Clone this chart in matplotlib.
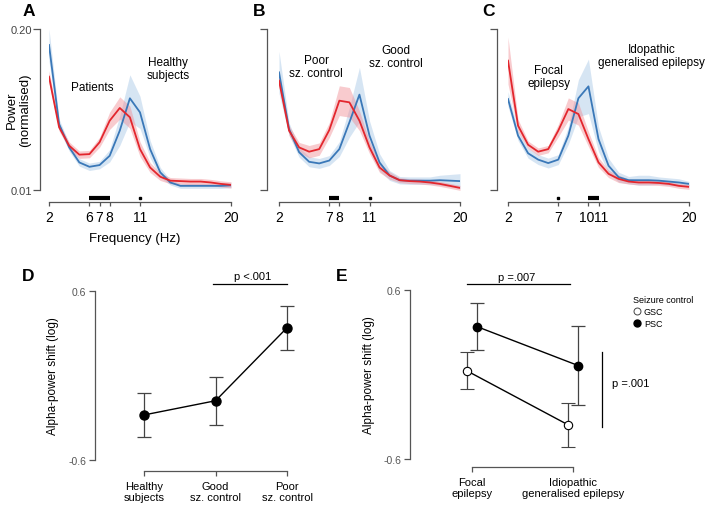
"""Alpha-power spectra (A-C) and alpha-power shift summaries (D-E)."""

import numpy as np
import matplotlib
matplotlib.use('Agg')
import matplotlib.pyplot as plt
from matplotlib.lines import Line2D
from matplotlib.ticker import NullLocator
from matplotlib.transforms import ScaledTranslation

plt.rcParams['font.family'] = ['Liberation Sans', 'DejaVu Sans']

RED = '#e3262d'
BLUE = '#3a78b8'
RED_FILL = '#f08c94'
BLUE_FILL = '#a6c6e6'
AXIS_GREY = '#555555'

freqs = np.arange(2, 21)

# panel A: patients (red) vs healthy subjects (blue)
a_red = [0.0824, 0.0321, 0.0228, 0.0193, 0.0195, 0.0243, 0.0363, 0.0460, 0.0387, 0.0214,
         0.0152, 0.0128, 0.0119, 0.0118, 0.0117, 0.0117, 0.0115, 0.0112, 0.0110]
a_blue = [0.1486, 0.0341, 0.0221, 0.0167, 0.0154, 0.0159, 0.0189, 0.0302, 0.0551, 0.0424,
          0.0214, 0.0139, 0.0115, 0.0108, 0.0108, 0.0108, 0.0108, 0.0108, 0.0109]
a_red_err = [0.05, 0.03, 0.03, 0.03, 0.03, 0.04, 0.07, 0.09, 0.09, 0.06,
             0.04, 0.03, 0.025, 0.025, 0.025, 0.025, 0.025, 0.025, 0.025]
a_blue_err = [0.13, 0.04, 0.03, 0.03, 0.03, 0.03, 0.05, 0.12, 0.19, 0.13,
              0.07, 0.04, 0.02, 0.02, 0.02, 0.02, 0.02, 0.02, 0.02]

# panel B: poor (red) vs good (blue) seizure control
b_red = [0.0765, 0.0302, 0.0221, 0.0204, 0.0214, 0.0305, 0.0527, 0.0511, 0.0363, 0.0221,
         0.0152, 0.0131, 0.0120, 0.0118, 0.0117, 0.0115, 0.0112, 0.0108, 0.0104]
b_blue = [0.0893, 0.0311, 0.0202, 0.0169, 0.0164, 0.0173, 0.0214, 0.0352, 0.0590, 0.0275,
          0.0167, 0.0131, 0.0120, 0.0119, 0.0119, 0.0119, 0.0120, 0.0119, 0.0118]
b_red_err = [0.05, 0.04, 0.04, 0.05, 0.05, 0.06, 0.12, 0.12, 0.08, 0.05,
             0.04, 0.03, 0.02, 0.02, 0.02, 0.02, 0.02, 0.02, 0.02]
b_blue_err = [0.17, 0.05, 0.04, 0.04, 0.04, 0.04, 0.06, 0.12, 0.22, 0.12,
              0.07, 0.04, 0.03, 0.03, 0.03, 0.03, 0.04, 0.05, 0.06]

# panel C: focal epilepsy (red) vs idiopathic generalised epilepsy (blue)
c_red = [0.1110, 0.0331, 0.0232, 0.0204, 0.0214, 0.0302, 0.0451, 0.0411, 0.0258, 0.0167,
         0.0135, 0.0123, 0.0117, 0.0115, 0.0115, 0.0114, 0.0112, 0.0108, 0.0106]
c_blue = [0.0544, 0.0275, 0.0198, 0.0176, 0.0165, 0.0176, 0.0275, 0.0551, 0.0688, 0.0258,
          0.0157, 0.0127, 0.0120, 0.0120, 0.0120, 0.0119, 0.0117, 0.0115, 0.0112]
c_red_err = [0.19, 0.05, 0.03, 0.03, 0.03, 0.05, 0.09, 0.09, 0.06, 0.04,
             0.03, 0.03, 0.02, 0.02, 0.02, 0.02, 0.02, 0.02, 0.02]
c_blue_err = [0.06, 0.04, 0.04, 0.04, 0.04, 0.04, 0.07, 0.15, 0.22, 0.10,
              0.06, 0.04, 0.03, 0.04, 0.04, 0.03, 0.03, 0.03, 0.02]

a_ticks = [2, 6, 7, 8, 11, 20]
b_ticks = [2, 7, 8, 11, 20]
c_ticks = [2, 7, 10, 11, 20]

# significant frequency ranges (start, end); equal ends are single bins
a_sig = [(6, 8), (11, 11)]
b_sig = [(7, 8), (11, 11)]
c_sig = [(7, 7), (10, 11)]

# panel D
d_groups = ['Healthy\nsubjects', 'Good\nsz. control', 'Poor\nsz. control']
d_mean = [-0.280, -0.179, 0.340]
d_err = [0.155, 0.170, 0.157]

# panel E
e_groups = ['Focal\nepilepsy', 'Idiopathic\ngeneralised epilepsy']
e_gsc_mean = [0.026, -0.357]
e_gsc_err = [0.131, 0.158]
e_psc_mean = [0.340, 0.064]
e_psc_err = [0.168, 0.278]


def spectrum_panel(ax, red, red_err, blue, blue_err, ticks, sig, labels, offset):
    """Draw one power spectrum panel with shaded error bands."""
    for vals, err, fill in [(blue, blue_err, BLUE_FILL), (red, red_err, RED_FILL)]:
        vals = np.asarray(vals)
        err = np.asarray(err)
        ax.fill_between(freqs, vals / 10 ** err, vals * 10 ** err,
                        color=fill, alpha=0.45, lw=0)
    ax.plot(freqs, blue, color=BLUE, lw=1.3)
    ax.plot(freqs, red, color=RED, lw=1.3)

    ax.set_yscale('log')
    ax.set_ylim(0.01, 0.20)
    ax.set_xlim(2, 20)
    ax.yaxis.set_minor_locator(NullLocator())
    ax.set_yticks([0.01, 0.20])
    ax.set_yticklabels([])
    ax.set_xticks(ticks)
    ax.set_xticklabels([str(t) for t in ticks], fontsize=8.2)

    for side in ['top', 'right']:
        ax.spines[side].set_visible(False)
    ax.spines['left'].set_position(('outward', offset))
    ax.spines['bottom'].set_position(('outward', 8.6))
    for side in ['left', 'bottom']:
        ax.spines[side].set_color(AXIS_GREY)
        ax.spines[side].set_linewidth(0.9)
    ax.tick_params(colors=AXIS_GREY, labelcolor='black', width=0.9)
    ax.tick_params(axis='y', length=5, pad=1)
    ax.tick_params(axis='x', length=3, pad=2.5)

    trans = ax.get_xaxis_transform()
    for lo, hi in sig:
        if lo == hi:
            ax.plot([lo], [-0.05], marker='s', ms=1.8, color='black',
                    transform=trans, clip_on=False)
        else:
            ax.plot([lo, hi], [-0.05, -0.05], color='black', lw=3,
                    solid_capstyle='butt', transform=trans, clip_on=False)

    for text, x, y in labels:
        ax.text(x, y, text, fontsize=8.5, ha='center', va='center',
                linespacing=1.15)


def clean_axes(ax, ylim, xbounds):
    for side in ['top', 'right']:
        ax.spines[side].set_visible(False)
    ax.spines['left'].set_bounds(-0.6, 0.6)
    ax.spines['bottom'].set_bounds(*xbounds)
    for side in ['left', 'bottom']:
        ax.spines[side].set_color(AXIS_GREY)
        ax.spines[side].set_linewidth(0.9)
    ax.set_ylim(*ylim)
    ax.set_yticks([-0.6, 0.6])
    ax.set_yticklabels(['-0.6', '0.6'], fontsize=7.5, color='#444444')
    ax.tick_params(colors=AXIS_GREY, width=0.9)
    ax.tick_params(axis='y', length=4.5, pad=2)
    ax.tick_params(axis='x', length=3.5, labelcolor='black', labelsize=8)


fig = plt.figure(figsize=(7.09, 5.06), dpi=100)
W, H = 709.0, 506.0


def px_axes(left, top, right, bottom):
    return fig.add_axes([left / W, 1 - bottom / H, (right - left) / W, (bottom - top) / H])


ax_a = px_axes(49, 30, 231, 191)
ax_b = px_axes(279, 30, 460, 191)
ax_c = px_axes(508, 30, 689, 191)

spectrum_panel(ax_a, a_red, a_red_err, a_blue, a_blue_err, a_ticks, a_sig,
               [('Patients', 6.25, 0.0676), ('Healthy\nsubjects', 13.8, 0.096)], 6.5)
spectrum_panel(ax_b, b_red, b_red_err, b_blue, b_blue_err, b_ticks, b_sig,
               [('Poor\nsz. control', 5.7, 0.099), ('Good\nsz. control', 13.6, 0.12)], 8.6)
spectrum_panel(ax_c, c_red, c_red_err, c_blue, c_blue_err, c_ticks, c_sig,
               [('Focal\nepilepsy', 6.05, 0.083),
                ('Idopathic\ngeneralised epilepsy', 16.3, 0.122)], 8)

# nudge the crowded "10" / "11" labels apart, as in the original figure
c_labels = ax_c.get_xticklabels()
for lab, dx in [(c_labels[2], -2.0), (c_labels[3], 2.5)]:
    lab.set_transform(lab.get_transform() + ScaledTranslation(dx / 100, 0, fig.dpi_scale_trans))

ax_a.set_yticklabels(['0.01', '0.20'], fontsize=8, color='#444444')
ax_a.set_ylabel('Power\n(normalised)', fontsize=9.5, linespacing=1.1)
ax_a.yaxis.set_label_coords(-0.10, 0.5)
ax_a.set_xlabel('Frequency (Hz)', fontsize=9.5)
ax_a.xaxis.set_label_coords(0.47, -0.26)

# panel D
ax_d = px_axes(95, 265, 310, 472)
d_x = np.arange(len(d_groups))
ax_d.errorbar(d_x, d_mean, yerr=d_err, color='black', ecolor='#444444',
              elinewidth=0.9, capsize=5, capthick=0.9, lw=1, marker='o', ms=6.5,
              clip_on=False, zorder=3)
ax_d.set_xlim(-0.685, 2.32)
clean_axes(ax_d, (-0.678, 0.792), (0, 2))
ax_d.set_xticks(d_x)
ax_d.set_xticklabels(d_groups, linespacing=1.1)
ax_d.plot([0.97, 2.0], [0.652, 0.652], color='black', lw=0.9)
ax_d.text(1.52, 0.67, 'p <.001', fontsize=8, ha='center', va='bottom')
ax_d.set_ylabel('Alpha-power shift (log)', fontsize=8.5)
ax_d.yaxis.set_label_coords(-0.167, 0.464)

# panel E
ax_e = px_axes(410, 265, 705, 468)
e_x = np.arange(len(e_groups))
ax_e.errorbar(e_x - 0.05, e_gsc_mean, yerr=e_gsc_err, color='black', ecolor='#444444',
              elinewidth=0.9, capsize=5, capthick=0.9, lw=1, marker='o', ms=6,
              mfc='white', mec='black', mew=0.8, zorder=3)
ax_e.errorbar(e_x + 0.05, e_psc_mean, yerr=e_psc_err, color='black', ecolor='#444444',
              elinewidth=0.9, capsize=5, capthick=0.9, lw=1, marker='o', ms=6,
              zorder=3)
ax_e.set_xlim(-0.614, 2.307)
clean_axes(ax_e, (-0.657, 0.785), (0, 1))
ax_e.set_xticks(e_x)
ax_e.set_xticklabels(e_groups, linespacing=1.1)
ax_e.plot([-0.05, 0.97], [0.645, 0.645], color='black', lw=0.9)
ax_e.text(0.44, 0.66, 'p =.007', fontsize=8, ha='center', va='bottom')
ax_e.plot([1.285, 1.285], [0.163, -0.376], color='black', lw=0.9)
ax_e.text(1.39, -0.061, 'p =.001', fontsize=8, ha='left', va='center')
ax_e.set_ylabel('Alpha-power shift (log)', fontsize=8.5)
ax_e.yaxis.set_label_coords(-0.119, 0.46)

handles = [Line2D([], [], ls='none', marker='o', ms=5, mfc='white', mec='#444444', mew=0.7),
           Line2D([], [], ls='none', marker='o', ms=5, color='black')]
leg = ax_e.legend(handles, ['GSC', 'PSC'], title='Seizure control', frameon=False,
                  fontsize=6.5, title_fontsize=6.5, loc='upper left',
                  bbox_to_anchor=(633 / W, 1 - 296 / H), bbox_transform=fig.transFigure,
                  handlelength=0.8, handletextpad=0.4, labelspacing=0.35,
                  borderaxespad=0, borderpad=0)
leg._legend_box.align = 'left'

for letter, x, y in [('A', 29, 11), ('B', 259, 11), ('C', 488, 11),
                     ('D', 28, 277), ('E', 342, 277)]:
    fig.text(x / W, 1 - y / H, letter, fontsize=12.5, fontweight='bold',
             ha='center', va='center')

fig.savefig('out.png', dpi=100)
